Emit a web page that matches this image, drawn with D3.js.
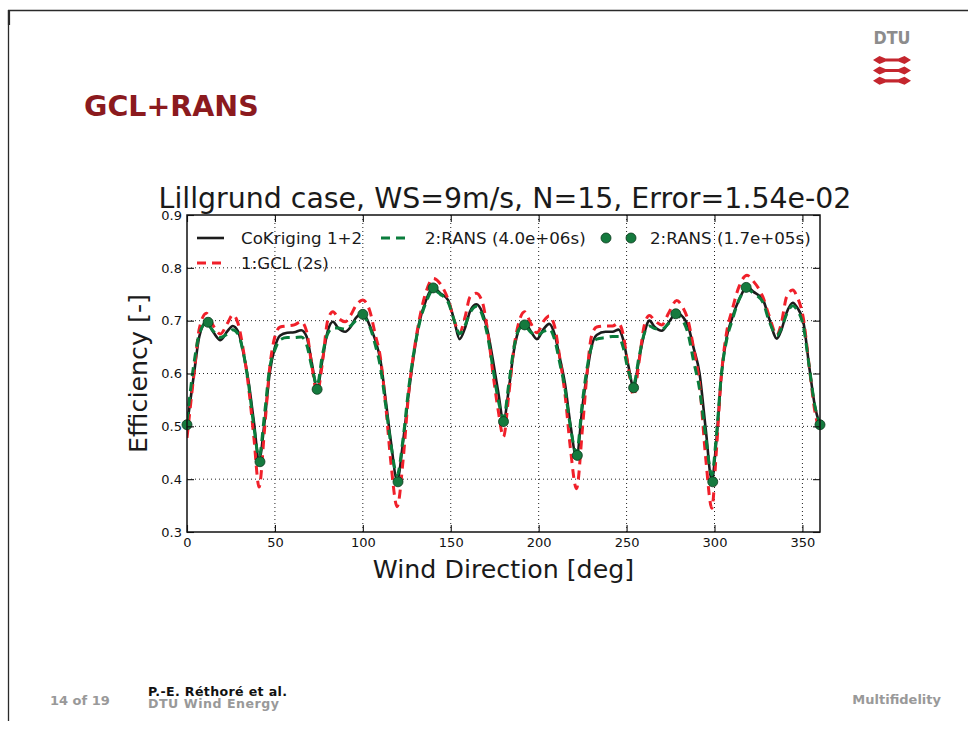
<!DOCTYPE html>
<html>
<head>
<meta charset="utf-8">
<script src="https://cdn.jsdelivr.net/npm/d3@7"></script>
<style>
  html, body { margin: 0; padding: 0; background: #fff; }
  svg { display: block; font-family: "DejaVu Sans", sans-serif; }
</style>
</head>
<body>
<svg id="slide" width="968" height="729"></svg>
<script>
// Wind directions (deg) where the three efficiency curves are sampled
const directions = [0,4,7,11,15,19,23,26,29,32, 35,38,41,44,47,50,53,57,61,65,
  68,71,74,77,80,83,86,90,93,96, 100,104,107,110,113,116,119.5,123,126,129,
  132,136,140,144,148.5,152,155,158,161,164.5, 168,171,174,177,180,183,186,189,192,195.5,
  199,203,206,209,212,215,218,221.5,225,227.5, 230,233,238,242,245.5,248,251,254,257,260,
  263,266,270,274,278.5,282,285,288,291.5,295, 298.5,301,304,307,310,314,318.5,322,327.5,331,
  335.5,338,341,344.5,347,350.5,354,357,360];

// CoKriging 1+2
const cokriging = [0.502,0.600,0.670,0.698,0.678,0.663,0.680,0.690,0.680,0.640,
  0.585,0.510,0.436,0.505,0.600,0.650,0.672,0.677,0.678,0.682,
  0.670,0.620,0.572,0.625,0.680,0.698,0.686,0.679,0.688,0.705,
  0.714,0.690,0.664,0.625,0.550,0.470,0.398,0.474,0.560,0.635,
  0.695,0.739,0.763,0.752,0.739,0.700,0.665,0.685,0.718,0.731,
  0.715,0.680,0.625,0.565,0.510,0.570,0.645,0.685,0.696,0.680,
  0.665,0.685,0.694,0.675,0.630,0.580,0.505,0.442,0.540,0.600,
  0.650,0.673,0.679,0.679,0.683,0.665,0.615,0.574,0.625,0.675,
  0.700,0.688,0.681,0.697,0.715,0.707,0.690,0.650,0.600,0.495,
  0.398,0.470,0.600,0.670,0.705,0.740,0.764,0.755,0.740,0.705,
  0.666,0.682,0.715,0.734,0.725,0.698,0.610,0.540,0.502];

// 2:RANS, full run (4.0e+06 s)
const ransFull = [0.510,0.620,0.675,0.695,0.680,0.668,0.675,0.683,0.675,0.640,
  0.580,0.500,0.442,0.520,0.610,0.645,0.664,0.668,0.668,0.669,
  0.655,0.612,0.578,0.635,0.675,0.686,0.686,0.684,0.690,0.700,
  0.708,0.688,0.655,0.612,0.540,0.465,0.408,0.480,0.570,0.640,
  0.692,0.735,0.758,0.750,0.735,0.700,0.675,0.690,0.715,0.727,
  0.710,0.670,0.610,0.550,0.515,0.580,0.650,0.685,0.690,0.678,
  0.672,0.680,0.684,0.665,0.620,0.570,0.500,0.450,0.550,0.610,
  0.650,0.665,0.668,0.670,0.670,0.650,0.605,0.580,0.630,0.675,
  0.690,0.685,0.684,0.695,0.710,0.700,0.675,0.625,0.570,0.480,
  0.408,0.480,0.600,0.665,0.700,0.740,0.760,0.752,0.735,0.700,
  0.672,0.685,0.712,0.728,0.720,0.690,0.610,0.540,0.505];

// 1:GCL (2 s)
const gcl = [0.478,0.600,0.685,0.714,0.690,0.675,0.695,0.711,0.695,0.645,
  0.575,0.480,0.385,0.490,0.610,0.670,0.688,0.690,0.692,0.698,
  0.680,0.615,0.563,0.620,0.700,0.717,0.705,0.698,0.710,0.728,
  0.739,0.718,0.675,0.630,0.540,0.430,0.348,0.440,0.560,0.640,
  0.700,0.755,0.780,0.770,0.740,0.700,0.677,0.705,0.745,0.752,
  0.735,0.680,0.600,0.530,0.480,0.560,0.650,0.700,0.717,0.695,
  0.677,0.700,0.709,0.690,0.630,0.560,0.460,0.382,0.500,0.600,
  0.670,0.688,0.690,0.690,0.695,0.675,0.610,0.558,0.620,0.690,
  0.710,0.700,0.692,0.715,0.738,0.725,0.700,0.650,0.580,0.440,
  0.345,0.450,0.600,0.680,0.720,0.765,0.786,0.775,0.745,0.710,
  0.673,0.695,0.745,0.758,0.745,0.705,0.610,0.530,0.490];

// 2:RANS sampled directions used for the CoKriging (1.7e+05 s)
const sampleDirections = [0,12,41.5,74,100,120,140,180,192,222,254,278,299,318,360];
const sampleEfficiency = [0.503,0.697,0.433,0.570,0.712,0.395,0.762,0.509,0.692,0.445,0.573,0.713,0.395,0.763,0.503];

const xTicks = [0,50,100,150,200,250,300,350];
const yTicks = [0.3,0.4,0.5,0.6,0.7,0.8,0.9];

const svg = d3.select("#slide");

// ---- slide frame ----
svg.append("line").attr("x1", 8).attr("x2", 968).attr("y1", 10.5).attr("y2", 10.5)
  .attr("stroke", "#2a2a2a").attr("stroke-width", 1.6);
svg.append("line").attr("x1", 8.5).attr("x2", 8.5).attr("y1", 10).attr("y2", 721)
  .attr("stroke", "#2a2a2a").attr("stroke-width", 1.3);
svg.append("line").attr("x1", 9).attr("x2", 9).attr("y1", 10).attr("y2", 25)
  .attr("stroke", "#2a2a2a").attr("stroke-width", 2.2);

// slide heading
svg.append("text").attr("x", 84).attr("y", 115.5)
  .attr("font-size", 28.5).attr("font-weight", "bold").attr("fill", "#8b1a1e")
  .text("GCL+RANS");

// DTU logo
svg.append("text").attr("x", 873.5).attr("y", 43.5)
  .attr("font-family", "'DejaVu Sans Condensed', 'DejaVu Sans', sans-serif")
  .attr("font-size", 18.5).attr("font-weight", "bold").attr("fill", "#8c8c8c")
  .attr("textLength", 37).attr("lengthAdjust", "spacingAndGlyphs")
  .text("DTU");
[60, 70.5, 80.8].forEach(cy => {
  const p = d3.path();
  p.moveTo(873, cy);
  p.lineTo(879.5, cy - 4);
  p.lineTo(885.5, cy - 1.6);
  p.lineTo(898.5, cy - 1.6);
  p.lineTo(904.5, cy - 4);
  p.lineTo(911, cy);
  p.lineTo(904.5, cy + 4);
  p.lineTo(898.5, cy + 1.6);
  p.lineTo(885.5, cy + 1.6);
  p.lineTo(879.5, cy + 4);
  p.closePath();
  svg.append("path").attr("d", p.toString()).attr("fill", "#c4262e");
});

// footer
svg.append("text").attr("x", 50).attr("y", 705).attr("font-size", 13)
  .attr("font-weight", "bold").attr("fill", "#999").text("14 of 19");
svg.append("text").attr("x", 148).attr("y", 696).attr("font-size", 12.6)
  .attr("font-weight", "bold").attr("fill", "#111")
  .attr("textLength", 139).attr("lengthAdjust", "spacing")
  .text("P.-E. Réthoré et al.");
svg.append("text").attr("x", 148).attr("y", 707.5).attr("font-size", 12.6)
  .attr("font-weight", "bold").attr("fill", "#999")
  .attr("textLength", 131).attr("lengthAdjust", "spacing")
  .text("DTU Wind Energy");
svg.append("text").attr("x", 941).attr("y", 704).attr("font-size", 13)
  .attr("text-anchor", "end").attr("font-weight", "bold").attr("fill", "#999")
  .text("Multifidelity");

// ---- chart ----
const plot = { left: 187, right: 820, top: 215, bottom: 532 };
const x = d3.scaleLinear().domain([0, 360]).range([plot.left, plot.right]);
const y = d3.scaleLinear().domain([0.3, 0.9]).range([plot.bottom, plot.top]);

const chart = svg.append("g");

// dotted grid
chart.append("g").selectAll("line").data(xTicks.filter(t => t > 0)).join("line")
  .attr("x1", d => x(d)).attr("x2", d => x(d))
  .attr("y1", plot.top).attr("y2", plot.bottom)
  .attr("stroke", "#222").attr("stroke-width", 1).attr("stroke-dasharray", "1,3");
chart.append("g").selectAll("line").data(yTicks.filter(t => t > 0.3 && t < 0.9)).join("line")
  .attr("x1", plot.left).attr("x2", plot.right)
  .attr("y1", d => y(d)).attr("y2", d => y(d))
  .attr("stroke", "#222").attr("stroke-width", 1).attr("stroke-dasharray", "1,3");

// curves
const rows = key => directions.map((d, i) => [d, key[i]]);
const line = d3.line().x(d => x(d[0])).y(d => y(d[1])).curve(d3.curveMonotoneX);
const clipId = "plotClip";
svg.append("defs").append("clipPath").attr("id", clipId).append("rect")
  .attr("x", plot.left).attr("y", plot.top)
  .attr("width", plot.right - plot.left).attr("height", plot.bottom - plot.top);
const curves = chart.append("g").attr("clip-path", `url(#${clipId})`);

curves.append("path").attr("d", line(rows(cokriging)))
  .attr("fill", "none").attr("stroke", "#1c1c1c").attr("stroke-width", 2.6)
  .attr("stroke-linejoin", "round");
curves.append("path").attr("d", line(rows(gcl)))
  .attr("fill", "none").attr("stroke", "#f0202a").attr("stroke-width", 3)
  .attr("stroke-dasharray", "9,6");
curves.append("path").attr("d", line(rows(ransFull)))
  .attr("fill", "none").attr("stroke", "#0a7d3c").attr("stroke-width", 3)
  .attr("stroke-dasharray", "9,6");
chart.append("g").selectAll("circle")
  .data(sampleDirections.map((d, i) => [d, sampleEfficiency[i]])).join("circle")
  .attr("cx", d => x(d[0])).attr("cy", d => y(d[1])).attr("r", 5)
  .attr("fill", "#157a3e").attr("stroke", "#0b3a1d").attr("stroke-width", 0.8);

// axes with inward ticks on all four sides
const tickLen = 7;
const axisBottom = d3.axisBottom(x).tickValues(xTicks).tickSize(-tickLen).tickPadding(6)
  .tickFormat(d3.format("d"));
const axisLeft = d3.axisLeft(y).tickValues(yTicks).tickSize(-tickLen).tickPadding(5)
  .tickFormat(d3.format(".1f"));
const axisTop = d3.axisTop(x).tickValues(xTicks).tickSize(-tickLen).tickFormat("");
const axisRight = d3.axisRight(y).tickValues(yTicks).tickSize(-tickLen).tickFormat("");

function styleAxis(g) {
  g.select(".domain").remove();
  g.selectAll(".tick line").attr("stroke", "#111").attr("stroke-width", 1.1);
  g.selectAll(".tick text").attr("font-size", 13).attr("fill", "#111")
    .attr("font-family", "DejaVu Sans");
}
chart.append("g").attr("transform", `translate(0,${plot.bottom})`).call(axisBottom).call(styleAxis);
chart.append("g").attr("transform", `translate(${plot.left},0)`).call(axisLeft).call(styleAxis);
chart.append("g").attr("transform", `translate(0,${plot.top})`).call(axisTop).call(styleAxis);
chart.append("g").attr("transform", `translate(${plot.right},0)`).call(axisRight).call(styleAxis);

chart.append("rect").attr("x", plot.left).attr("y", plot.top)
  .attr("width", plot.right - plot.left).attr("height", plot.bottom - plot.top)
  .attr("fill", "none").attr("stroke", "#111").attr("stroke-width", 1.5);

// titles
chart.append("text").attr("x", (plot.left + plot.right) / 2 + 1.5).attr("y", 208)
  .attr("text-anchor", "middle").attr("font-size", 28.4).attr("fill", "#1a1a1a")
  .text("Lillgrund case, WS=9m/s, N=15, Error=1.54e-02");
chart.append("text").attr("x", (plot.left + plot.right) / 2).attr("y", 578)
  .attr("text-anchor", "middle").attr("font-size", 25.3).attr("fill", "#1a1a1a")
  .text("Wind Direction [deg]");
chart.append("text")
  .attr("transform", `translate(147,${(plot.top + plot.bottom) / 2}) rotate(-90)`)
  .attr("text-anchor", "middle").attr("font-size", 25.3).attr("fill", "#1a1a1a")
  .text("Efficiency [-]");

// legend
const legend = chart.append("g").attr("font-size", 16.7).attr("fill", "#1a1a1a");
const entries = [
  { label: "CoKriging 1+2", kind: "solid", color: "#1c1c1c", lx: 197, tx: 241, row: 0 },
  { label: "1:GCL (2s)", kind: "dash", color: "#f0202a", lx: 197, tx: 241, row: 1 },
  { label: "2:RANS (4.0e+06s)", kind: "dash", color: "#0a7d3c", lx: 381, tx: 425, row: 0 },
  { label: "2:RANS (1.7e+05s)", kind: "dots", color: "#157a3e", lx: 606, tx: 650, row: 0 }
];
entries.forEach(e => {
  const cy = 238 + e.row * 25;
  if (e.kind === "dots") {
    [e.lx, e.lx + 25].forEach(cx => legend.append("circle")
      .attr("cx", cx).attr("cy", cy).attr("r", 5)
      .attr("fill", e.color).attr("stroke", "#0b3a1d").attr("stroke-width", 0.8));
  } else {
    legend.append("line").attr("x1", e.lx).attr("x2", e.lx + 27)
      .attr("y1", cy).attr("y2", cy).attr("stroke", e.color)
      .attr("stroke-width", e.kind === "solid" ? 2.6 : 3)
      .attr("stroke-dasharray", e.kind === "dash" ? "9,6" : null);
  }
  legend.append("text").attr("x", e.tx).attr("y", cy + 5.5).text(e.label);
});
</script>
</body>
</html>
